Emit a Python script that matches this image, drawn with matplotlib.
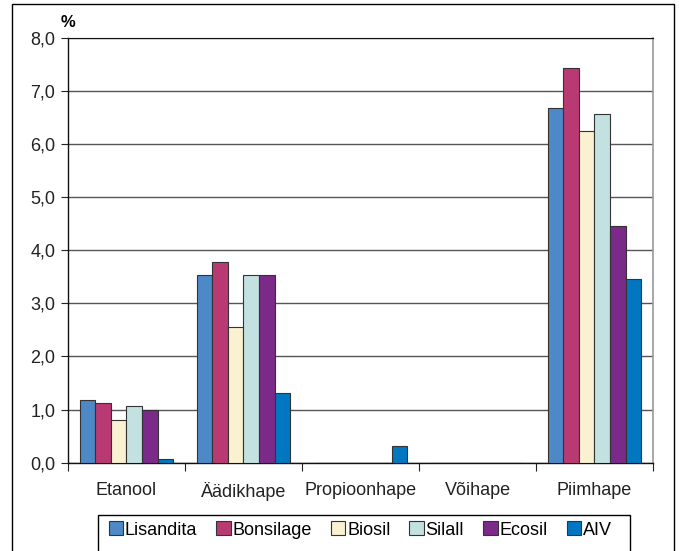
import matplotlib
matplotlib.use("Agg")
import matplotlib.pyplot as plt
from matplotlib.patches import Rectangle
import numpy as np

categories = ["Etanool", "Äädikhape", "Propioonhape", "Võihape", "Piimhape"]
series_names = ["Lisandita", "Bonsilage", "Biosil", "Silall", "Ecosil", "AIV"]

lisandita = [1.18, 3.53, 0.0, 0.0, 6.68]
bonsilage = [1.12, 3.78, 0.0, 0.0, 7.43]
biosil = [0.80, 2.55, 0.0, 0.0, 6.25]
silall = [1.06, 3.53, 0.0, 0.0, 6.56]
ecosil = [0.99, 3.53, 0.0, 0.0, 4.45]
aiv = [0.06, 1.31, 0.31, 0.0, 3.45]

colors = ["#4D88C7", "#B93A73", "#F9F1CF", "#C2E1E0", "#7B2A89", "#0077C0"]

plt.rcParams["font.family"] = ["Liberation Sans", "DejaVu Sans"]

fig = plt.figure(figsize=(6.79, 5.51), dpi=100)
ax = fig.add_axes([0.1001, 0.1603, 0.8616, 0.7713])

all_series = [lisandita, bonsilage, biosil, silall, ecosil, aiv]
x = np.arange(len(categories))
bar_w = 0.8 / len(all_series)
for i, (name, vals) in enumerate(zip(series_names, all_series)):
    offs = -0.4 + bar_w * (i + 0.5)
    ax.bar(x + offs, vals, width=bar_w, color=colors[i], edgecolor="#333333",
           linewidth=0.8, label=name, zorder=3)

ax.set_xlim(-0.5, len(categories) - 0.5)
ax.set_ylim(0, 8)
ax.set_yticks(np.arange(0, 9, 1))
ax.set_yticklabels([f"{v:.1f}".replace(".", ",") for v in range(0, 9)], fontsize=13)
ax.tick_params(axis="y", length=5, width=0.8, pad=4, color="#222222", labelcolor="#222222")

ax.set_xticks(np.arange(-0.5, len(categories), 1))
ax.set_xticklabels([])
ax.tick_params(axis="x", which="major", length=6, width=0.8, direction="out", color="#222222")
ax.set_xticks(x, minor=True)
ax.set_xticklabels(categories, minor=True, fontsize=13)
ax.tick_params(axis="x", which="minor", length=0, pad=14, labelcolor="#222222")

ax.grid(True, axis="y", color="#555555", linewidth=1.0, zorder=0)
for side in ["left", "bottom"]:
    ax.spines[side].set_color("#111111")
    ax.spines[side].set_linewidth(1.0)
ax.spines["top"].set_color("#111111")
ax.spines["right"].set_color("#999999")
ax.spines["right"].set_linewidth(1.2)

fig.text(0.100, 0.960, "%", fontsize=12, fontweight="bold", ha="center", va="center")

# outer chart frame
fig.patches.append(Rectangle((0.0184, -0.05), 0.9736, 0.9927 + 0.05, transform=fig.transFigure,
                             fill=False, edgecolor="black", linewidth=1.0))
# legend frame
fig.patches.append(Rectangle((0.1443, -0.05), 0.7835, 0.0653 + 0.05,
                             transform=fig.transFigure, fill=False, edgecolor="black",
                             linewidth=1.0))

leg = fig.legend(loc="center left", bbox_to_anchor=(0.160, 0.038), ncol=6, frameon=False,
                 fontsize=13, handlelength=0.8, handleheight=0.8, handletextpad=0.1,
                 columnspacing=1.05, borderpad=0, borderaxespad=0)
for h in leg.legend_handles:
    h.set_edgecolor("#333333")

fig.savefig("out.png", dpi=100)
